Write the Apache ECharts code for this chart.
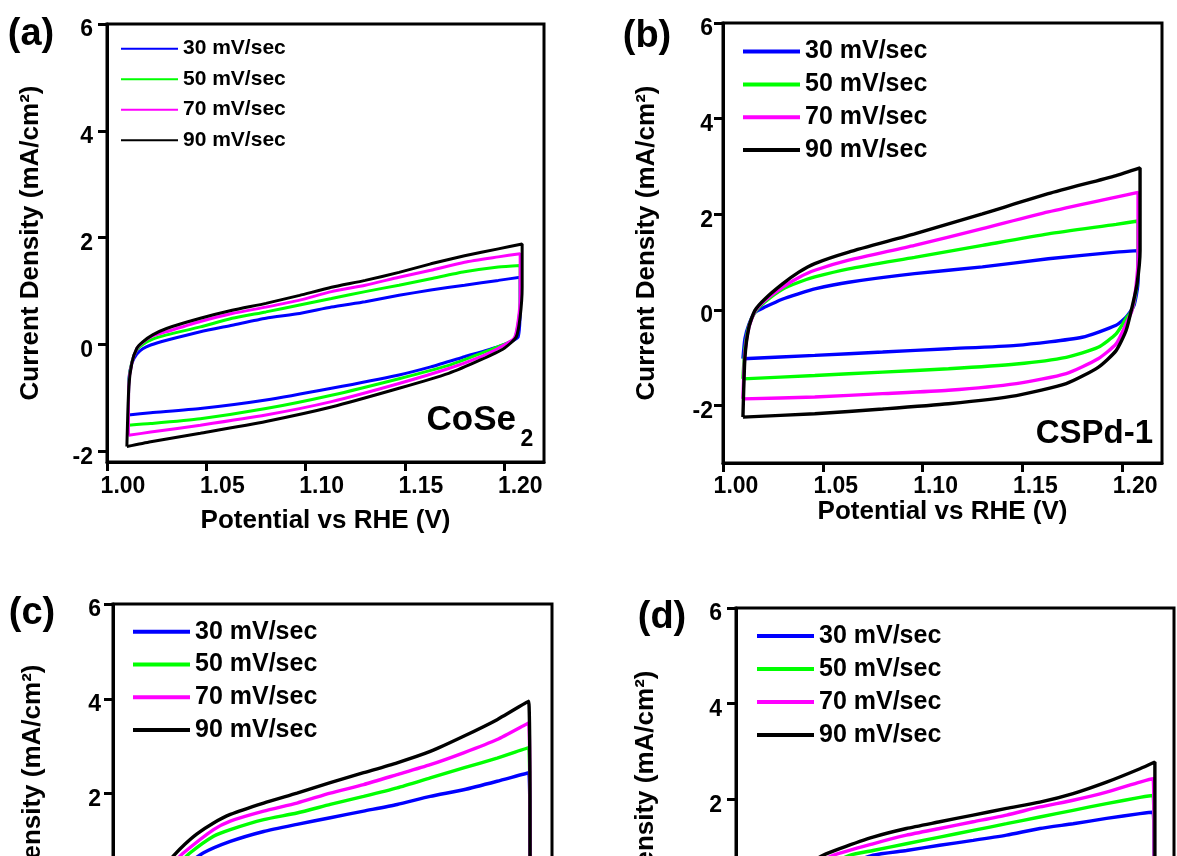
<!DOCTYPE html>
<html>
<head>
<meta charset="utf-8">
<script src="https://cdn.jsdelivr.net/npm/echarts@6/dist/echarts.min.js"></script>
<style>
html,body{margin:0;padding:0;background:#fff;overflow:hidden;}
#chart{width:1177px;height:1120px;}
</style>
</head>
<body>
<div id="chart"></div>
<script>
// ---------- data ----------
const seriesNames = ['30 mV/sec', '50 mV/sec', '70 mV/sec', '90 mV/sec'];
const seriesColors = ['#0000ff', '#00ff00', '#ff00ff', '#000000'];
const xTicks = [1.00, 1.05, 1.10, 1.15, 1.20];
const yTicks = [-2, 0, 2, 4, 6];
const panelLetters = ['(a)', '(b)', '(c)', '(d)'];
const xTitle = 'Potential vs RHE (V)';
const yTitle = 'Current Density (mA/cm\u00B2)';

// Panel (a) CoSe2
const a30 = [[1.0108,-1.32],[1.011,-0.65],[1.0125,-0.35],[1.015,-0.18],[1.018,-0.08],[1.022,-0.01],[1.030,0.08],[1.047,0.24],[1.063,0.36],[1.080,0.49],[1.097,0.58],[1.113,0.70],[1.130,0.80],[1.147,0.92],[1.163,1.02],[1.180,1.11],[1.197,1.20],[1.208,1.26],
  [1.208,0.70],[1.207,0.14],[1.203,0.05],[1.197,-0.04],[1.180,-0.23],[1.163,-0.42],[1.147,-0.57],[1.113,-0.82],[1.080,-1.04],[1.047,-1.20],[1.022,-1.28],[1.0108,-1.32]];
const a50 = [[1.0108,-1.51],[1.011,-0.70],[1.0125,-0.33],[1.015,-0.10],[1.018,0.00],[1.023,0.10],[1.030,0.18],[1.047,0.33],[1.063,0.49],[1.080,0.61],[1.097,0.74],[1.113,0.86],[1.130,0.99],[1.147,1.11],[1.163,1.23],[1.180,1.36],[1.197,1.45],[1.208,1.48],
  [1.208,0.80],[1.207,0.40],[1.205,0.10],[1.197,-0.04],[1.188,-0.17],[1.172,-0.39],[1.147,-0.64],[1.113,-0.95],[1.080,-1.20],[1.047,-1.39],[1.022,-1.48],[1.0108,-1.51]];
const a70 = [[1.0108,-1.70],[1.011,-0.75],[1.0125,-0.35],[1.015,-0.08],[1.018,0.04],[1.023,0.16],[1.030,0.24],[1.047,0.43],[1.063,0.58],[1.080,0.70],[1.097,0.83],[1.113,0.99],[1.130,1.11],[1.147,1.26],[1.163,1.39],[1.180,1.54],[1.197,1.64],[1.208,1.70],
  [1.208,0.90],[1.207,0.45],[1.205,0.12],[1.197,-0.07],[1.188,-0.23],[1.172,-0.45],[1.147,-0.73],[1.113,-1.07],[1.080,-1.32],[1.047,-1.51],[1.022,-1.64],[1.0108,-1.70]];
const a90 = [[1.010,-1.91],[1.011,-0.79],[1.0125,-0.35],[1.015,-0.07],[1.018,0.05],[1.023,0.18],[1.030,0.30],[1.047,0.49],[1.063,0.64],[1.080,0.77],[1.097,0.92],[1.113,1.07],[1.130,1.20],[1.147,1.35],[1.163,1.51],[1.180,1.66],[1.197,1.79],[1.209,1.88],
  [1.209,1.07],[1.208,0.52],[1.206,0.14],[1.200,-0.07],[1.188,-0.29],[1.172,-0.54],[1.147,-0.82],[1.113,-1.17],[1.080,-1.44],[1.047,-1.66],[1.022,-1.82],[1.010,-1.91]];

// Panel (b) CSPd-1
const b30 = [[1.010,-1.02],[1.011,-0.60],[1.013,-0.30],[1.016,-0.05],[1.021,0.06],[1.030,0.23],[1.038,0.34],[1.046,0.44],[1.063,0.58],[1.096,0.76],[1.130,0.90],[1.163,1.07],[1.197,1.21],[1.208,1.24],
  [1.208,0.60],[1.206,0.10],[1.202,-0.15],[1.197,-0.32],[1.180,-0.57],[1.147,-0.74],[1.113,-0.81],[1.080,-0.88],[1.046,-0.95],[1.010,-1.02]];
const b50 = [[1.010,-1.44],[1.011,-0.80],[1.013,-0.33],[1.016,-0.05],[1.021,0.17],[1.030,0.44],[1.038,0.58],[1.046,0.69],[1.063,0.86],[1.096,1.10],[1.130,1.35],[1.163,1.59],[1.197,1.79],[1.208,1.86],
  [1.208,0.90],[1.207,0.40],[1.205,0.00],[1.202,-0.18],[1.197,-0.50],[1.188,-0.78],[1.172,-0.99],[1.147,-1.13],[1.113,-1.23],[1.080,-1.30],[1.046,-1.37],[1.010,-1.44]];
const b70 = [[1.010,-1.86],[1.011,-0.90],[1.013,-0.36],[1.016,-0.03],[1.021,0.20],[1.030,0.48],[1.038,0.68],[1.046,0.83],[1.063,1.04],[1.096,1.35],[1.130,1.70],[1.163,2.05],[1.197,2.36],[1.208,2.46],
  [1.208,1.10],[1.207,0.50],[1.205,0.00],[1.202,-0.29],[1.197,-0.71],[1.188,-1.02],[1.172,-1.33],[1.147,-1.54],[1.113,-1.68],[1.080,-1.75],[1.046,-1.82],[1.010,-1.86]];
const b90 = [[1.010,-2.24],[1.011,-0.99],[1.013,-0.36],[1.016,-0.01],[1.021,0.23],[1.030,0.55],[1.038,0.79],[1.046,0.97],[1.063,1.21],[1.096,1.59],[1.130,2.01],[1.163,2.43],[1.197,2.81],[1.209,2.97],
  [1.209,1.24],[1.2075,0.55],[1.205,0.06],[1.202,-0.43],[1.197,-0.85],[1.188,-1.20],[1.172,-1.54],[1.147,-1.79],[1.113,-1.96],[1.080,-2.07],[1.046,-2.17],[1.010,-2.24]];

// Panel (c)
const c30 = [[1.010,-1.50],[1.011,-0.70],[1.013,-0.30],[1.016,-0.05],[1.022,0.15],[1.035,0.45],[1.0454,0.75],[1.0588,0.99],[1.0755,1.20],[1.0922,1.35],[1.1089,1.49],[1.1256,1.63],[1.1424,1.77],[1.159,1.94],[1.1757,2.08],[1.1925,2.26],[1.2083,2.44],
  [1.209,0.60],[1.206,0.00],[1.200,-0.40],[1.180,-0.80],[1.147,-1.05],[1.113,-1.20],[1.080,-1.30],[1.046,-1.40],[1.010,-1.50]];
const c50 = [[1.010,-2.00],[1.011,-0.85],[1.013,-0.40],[1.016,-0.08],[1.022,0.18],[1.030,0.40],[1.0387,0.75],[1.0504,1.10],[1.0588,1.24],[1.0755,1.45],[1.0922,1.59],[1.1089,1.77],[1.1256,1.94],[1.1424,2.12],[1.159,2.33],[1.1757,2.54],[1.1925,2.75],[1.2083,2.97],
  [1.209,0.60],[1.206,-0.20],[1.199,-0.80],[1.180,-1.25],[1.147,-1.55],[1.113,-1.70],[1.080,-1.80],[1.046,-1.90],[1.010,-2.00]];
const c70 = [[1.010,-2.50],[1.011,-1.00],[1.013,-0.45],[1.016,-0.10],[1.021,0.20],[1.028,0.45],[1.0354,0.75],[1.0504,1.24],[1.0588,1.42],[1.0755,1.63],[1.0922,1.80],[1.1089,2.01],[1.1256,2.19],[1.1424,2.40],[1.159,2.61],[1.1757,2.86],[1.1925,3.14],[1.2083,3.49],
  [1.209,0.50],[1.205,-0.40],[1.197,-1.10],[1.180,-1.60],[1.147,-1.95],[1.113,-2.15],[1.080,-2.30],[1.046,-2.40],[1.010,-2.50]];
const c90 = [[1.010,-2.90],[1.011,-1.20],[1.013,-0.50],[1.016,-0.05],[1.021,0.25],[1.026,0.47],[1.0304,0.69],[1.036,0.93],[1.0421,1.15],[1.0504,1.38],[1.0588,1.56],[1.0755,1.80],[1.0922,2.01],[1.1089,2.23],[1.1256,2.44],[1.1424,2.65],[1.159,2.89],[1.1757,3.21],[1.1925,3.56],[1.2083,3.95],
  [1.209,0.50],[1.205,-0.50],[1.197,-1.30],[1.180,-1.90],[1.147,-2.30],[1.113,-2.50],[1.080,-2.65],[1.046,-2.80],[1.010,-2.90]];

// Panel (d)
const d30 = [[1.010,-1.30],[1.011,-0.60],[1.013,-0.25],[1.016,-0.02],[1.022,0.15],[1.030,0.30],[1.050,0.55],[1.0688,0.83],[1.0856,0.93],[1.1023,1.04],[1.1191,1.14],[1.1359,1.25],[1.1526,1.39],[1.1693,1.49],[1.1861,1.60],[1.2029,1.70],[1.2095,1.73],
  [1.2100,0.50],[1.207,0.00],[1.200,-0.40],[1.183,-0.70],[1.150,-0.95],[1.116,-1.05],[1.083,-1.15],[1.046,-1.22],[1.010,-1.30]];
const d50 = [[1.010,-1.70],[1.011,-0.75],[1.013,-0.30],[1.016,-0.03],[1.022,0.18],[1.030,0.36],[1.046,0.62],[1.0571,0.83],[1.0688,0.93],[1.0856,1.07],[1.1023,1.21],[1.1191,1.35],[1.1359,1.49],[1.1526,1.63],[1.1693,1.77],[1.1861,1.91],[1.2029,2.04],[1.2095,2.08],
  [1.2100,0.50],[1.207,-0.20],[1.200,-0.70],[1.183,-1.05],[1.150,-1.30],[1.116,-1.42],[1.083,-1.52],[1.046,-1.60],[1.010,-1.70]];
const d70 = [[1.010,-2.05],[1.011,-0.90],[1.013,-0.35],[1.016,-0.04],[1.022,0.20],[1.030,0.42],[1.040,0.65],[1.0487,0.83],[1.0688,1.07],[1.0856,1.25],[1.1023,1.39],[1.1191,1.53],[1.1359,1.67],[1.1526,1.84],[1.1693,1.98],[1.1861,2.15],[1.2029,2.36],[1.2095,2.43],
  [1.2100,0.50],[1.207,-0.40],[1.200,-1.00],[1.183,-1.40],[1.150,-1.65],[1.116,-1.78],[1.083,-1.88],[1.046,-1.96],[1.010,-2.05]];
const d90 = [[1.010,-2.40],[1.011,-1.05],[1.013,-0.40],[1.016,-0.05],[1.022,0.25],[1.030,0.50],[1.036,0.65],[1.0437,0.83],[1.0521,0.97],[1.0688,1.21],[1.0856,1.39],[1.1023,1.53],[1.1191,1.67],[1.1359,1.81],[1.1526,1.94],[1.1693,2.12],[1.1861,2.36],[1.2029,2.64],[1.2104,2.78],
  [1.2104,0.50],[1.207,-0.50],[1.200,-1.25],[1.183,-1.70],[1.150,-1.98],[1.116,-2.12],[1.083,-2.22],[1.046,-2.30],[1.010,-2.40]];

const panelData = [[a30,a50,a70,a90],[b30,b50,b70,b90],[c30,c50,c70,c90],[d30,d50,d70,d90]];
const panelYMin = [-2.2, -3.2, -3.2, -3.2];

// ---------- layout / style ----------
const FONT = '"Liberation Sans", Arial, Helvetica, sans-serif';
const layout = [
  {left:107, top:24, width:437, height:438, lw:3, xLblPad:32, xLblMargin:13, xNameGap:46, yLblMargin:14, yNameGap:63,
   legend:{left:121, top:38.2, font:21, gap:9.5, ih:2}},
  {left:723, top:23, width:439, height:440, lw:3.4, xLblPad:26, xLblMargin:12, xNameGap:36, yLblMargin:10, yNameGap:63,
   legend:{left:743, top:39.1, font:25, gap:7.8, ih:4}},
  {left:113, top:604, width:439, height:436, lw:3.4, xLblPad:26, xLblMargin:12, xNameGap:36, yLblMargin:12, yNameGap:67,
   legend:{left:133, top:619.2, font:25, gap:7.8, ih:4}},
  {left:736, top:608, width:438, height:440, lw:3.4, xLblPad:26, xLblMargin:12, xNameGap:36, yLblMargin:14, yNameGap:77,
   legend:{left:757, top:623.5, font:25, gap:8, ih:4}}
];

const grids = [], xAxes = [], yAxes = [], series = [], legends = [];
layout.forEach((L, i) => {
  grids.push({left:L.left, top:L.top, width:L.width, height:L.height, show:true,
    borderColor:'#000', borderWidth:3, backgroundColor:'transparent', containLabel:false, outerBoundsMode:'none'});
  xAxes.push({type:'value', gridIndex:i, min:1.0, max:1.22,
    axisLine:{show:true, onZero:false, lineStyle:{color:'#000', width:3}},
    axisTick:{show:true, inside:false, length:9, customValues:xTicks, lineStyle:{color:'#000', width:3}},
    axisLabel:{customValues:xTicks, formatter:v => Number(v).toFixed(2), fontSize:23, fontWeight:'bold',
      color:'#000', fontFamily:FONT, margin:L.xLblMargin, padding:[0,0,0,L.xLblPad]},
    splitLine:{show:false}, minorTick:{show:false},
    name:xTitle, nameLocation:'middle', nameGap:L.xNameGap, nameMoveOverlap:false,
    nameTextStyle:{fontSize:26, fontWeight:'bold', color:'#000', fontFamily:FONT}});
  yAxes.push({type:'value', gridIndex:i, min:panelYMin[i], max:6,
    axisLine:{show:true, onZero:false, lineStyle:{color:'#000', width:3}},
    axisTick:{show:true, inside:false, length:9, customValues:yTicks, lineStyle:{color:'#000', width:3}},
    axisLabel:{customValues:yTicks, fontSize:23, fontWeight:'bold', color:'#000', fontFamily:FONT,
      margin:L.yLblMargin, verticalAlign:'top', lineHeight:12},
    splitLine:{show:false},
    name:yTitle, nameLocation:'middle', nameRotate:90, nameGap:L.yNameGap, nameMoveOverlap:false,
    nameTextStyle:{fontSize:26, fontWeight:'bold', color:'#000', fontFamily:FONT}});
  panelData[i].forEach((arr, k) => {
    series.push({type:'line', name:seriesNames[k], xAxisIndex:i, yAxisIndex:i, data:arr,
      showSymbol:false, symbol:'none', smooth:0.2, clip:true,
      lineStyle:{color:seriesColors[k], width:L.lw}, itemStyle:{color:seriesColors[k]}, z:2+k});
  });
  legends.push({orient:'vertical', left:L.legend.left, top:L.legend.top, padding:0,
    itemWidth:57, itemHeight:L.legend.ih, itemGap:L.legend.gap, icon:'rect', selectedMode:false,
    data:seriesNames,
    textStyle:{fontSize:L.legend.font, lineHeight:L.legend.font, fontWeight:'bold', color:'#000', fontFamily:FONT}});
});

const letterPos = [[31,35],[647,37],[32,614],[662,618]];
const graphics = panelLetters.map((t, i) => ({type:'text', x:letterPos[i][0], y:letterPos[i][1],
  style:{text:t, fontSize:38, fontWeight:'bold', fill:'#000', fontFamily:FONT, align:'center', verticalAlign:'middle'}}));
graphics.push({type:'text', x:516, y:420, style:{text:'CoSe', fontSize:35, fontWeight:'bold', fill:'#000', fontFamily:FONT, align:'right', verticalAlign:'middle'}});
graphics.push({type:'text', x:527, y:440, style:{text:'2', fontSize:23, fontWeight:'bold', fill:'#000', fontFamily:FONT, align:'center', verticalAlign:'middle'}});
graphics.push({type:'text', x:1153, y:433.5, style:{text:'CSPd-1', fontSize:33, fontWeight:'bold', fill:'#000', fontFamily:FONT, align:'right', verticalAlign:'middle'}});

const chart = echarts.init(document.getElementById('chart'), null, {renderer:'canvas'});
chart.setOption({
  animation:false,
  backgroundColor:'#fff',
  grid:grids, xAxis:xAxes, yAxis:yAxes, series:series, legend:legends, graphic:graphics
});
</script>
</body>
</html>
